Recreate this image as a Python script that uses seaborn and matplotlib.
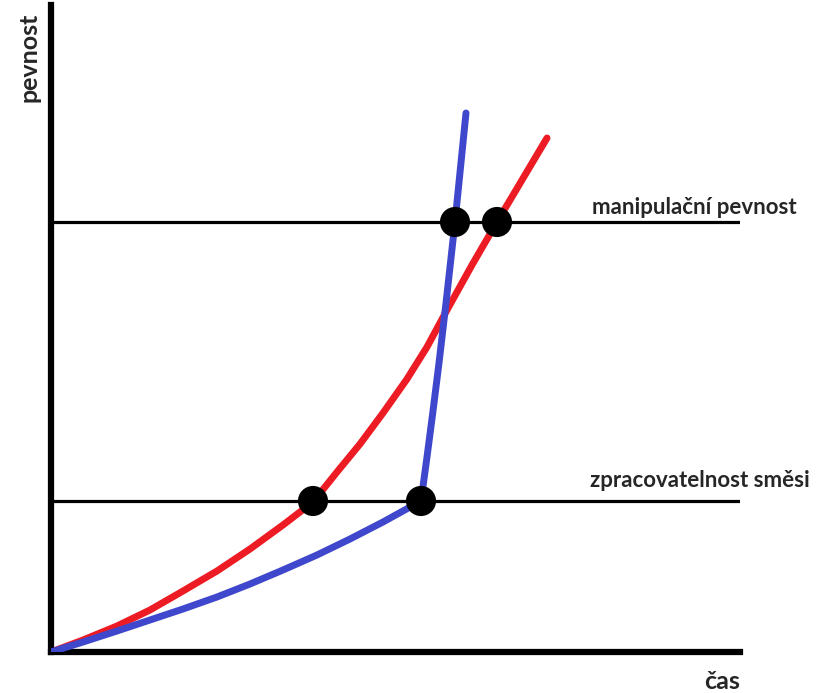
import matplotlib
matplotlib.use("Agg")
import matplotlib.pyplot as plt
import seaborn as sns
import pandas as pd

# time / strength in arbitrary units
red_time = [0, 32, 66, 99, 132, 166, 199, 232, 262, 286, 309, 332, 356, 376,
            396, 421, 446, 471, 496]
red_strength = [0, 12, 26, 42, 61, 81, 103, 127, 150, 180, 208, 239, 273, 305,
                342, 387, 430, 472, 514]

blue_time = [0, 32, 66, 99, 132, 166, 199, 232, 266, 299, 332, 370, 376, 382,
             388, 395, 404, 415]
blue_strength = [0, 10, 21, 32, 43, 55, 68, 82, 97, 113, 130, 151, 195, 241,
                 289, 349, 430, 539]

levels = [151, 430]
level_labels = ["zpracovatelnost směsi", "manipulační pevnost"]

marker_time = [262, 370, 404, 446]
marker_strength = [151, 151, 430, 430]

RED = "#ED1C24"
BLUE = "#3F48CC"

sns.set_style("white")
plt.rcParams["font.family"] = ["Lato", "DejaVu Sans"]

fig = plt.figure(figsize=(8.25, 6.93), dpi=100)
W, H = 825, 693
ax = fig.add_axes([51 / W, (H - 652) / H, (740 - 51) / W, (652 - 5) / H])

for lv in levels:
    ax.axhline(lv, color="black", linewidth=2.3, zorder=1)

red = pd.DataFrame({"cas": red_time, "pevnost": red_strength})
blue = pd.DataFrame({"cas": blue_time, "pevnost": blue_strength})
sns.lineplot(data=red, x="cas", y="pevnost", sort=False, color=RED,
             linewidth=5, solid_capstyle="round", solid_joinstyle="round",
             ax=ax, zorder=2)
sns.lineplot(data=blue, x="cas", y="pevnost", sort=False, color=BLUE,
             linewidth=5, solid_capstyle="round", solid_joinstyle="round",
             ax=ax, zorder=3)
sns.scatterplot(x=marker_time, y=marker_strength, color="black", s=470,
                edgecolor="none", ax=ax, zorder=4)

ax.set_xlim(0, 689)
ax.set_ylim(0, 647)
ax.set_xticks([])
ax.set_yticks([])
ax.set_xlabel("")
ax.set_ylabel("")
for side in ["top", "right"]:
    ax.spines[side].set_visible(False)
for side in ["left", "bottom"]:
    ax.spines[side].set_linewidth(4.5)
    ax.spines[side].set_color("black")

ax.text(539, 165, level_labels[0], fontsize=16, fontweight="bold",
        va="baseline", ha="left")
ax.text(541, 438, level_labels[1], fontsize=16, fontweight="bold",
        va="baseline", ha="left")

fig.text(722 / W, 4 / H, "čas", fontsize=18, fontweight="bold",
         ha="center", va="baseline")
fig.text(29 / W, 1 - 57 / H, "pevnost", fontsize=18, fontweight="bold",
         ha="center", va="center", rotation=90)

fig.savefig("out.png", dpi=100)
